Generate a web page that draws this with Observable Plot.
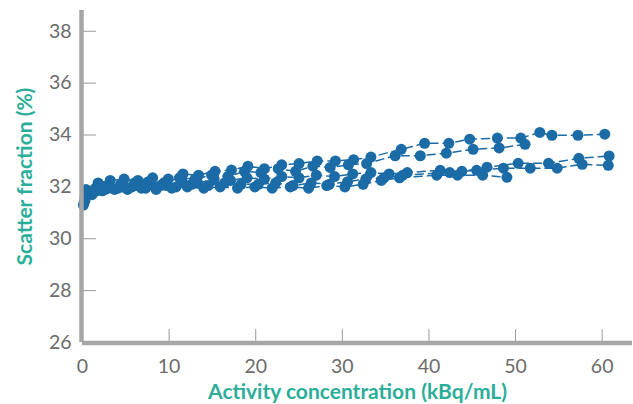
<!DOCTYPE html>
<html>
<head>
<meta charset="utf-8">
<script src="https://cdn.jsdelivr.net/npm/d3@7"></script>
<script src="https://cdn.jsdelivr.net/npm/@observablehq/plot@0.6"></script>
<style>
  html, body { margin: 0; padding: 0; background: #fff; }
  #chart { width: 633px; height: 404px; }
</style>
</head>
<body>
<div id="chart"></div>
<script>
// Activity concentration (kBq/mL) and scatter fraction (%) per acquisition series
const seriesNames = ["A", "B", "C", "D", "E"];
const xA = [0.4, 1.8, 3.2, 4.8, 6.4, 8.1, 9.9, 11.6, 13.4, 15.3, 17.2, 19.1, 21.0, 23.0, 25.0, 27.1, 29.2, 31.3, 33.3, 36.8, 39.5, 42.3, 44.7, 47.9, 50.6, 52.8, 54.2, 57.2, 60.3];
const yA = [31.9, 32.15, 32.25, 32.3, 32.25, 32.35, 32.3, 32.5, 32.45, 32.6, 32.65, 32.8, 32.7, 32.85, 32.9, 33.0, 33.0, 33.05, 33.15, 33.45, 33.68, 33.68, 33.84, 33.88, 33.88, 34.1, 33.99, 33.99, 34.03];
const xB = [0.3, 1.5, 2.9, 4.4, 6.0, 7.6, 9.4, 11.2, 13.0, 14.9, 16.8, 18.7, 20.6, 22.6, 24.6, 26.6, 28.6, 30.7, 32.8, 36.1, 39.0, 42.0, 45.1, 48.1, 51.1];
const yB = [31.6, 31.95, 32.05, 32.1, 32.15, 32.2, 32.15, 32.35, 32.3, 32.45, 32.4, 32.6, 32.55, 32.7, 32.6, 32.8, 32.75, 32.85, 32.9, 33.2, 33.2, 33.3, 33.45, 33.5, 33.64];
const xC = [0.3, 1.6, 3.0, 4.6, 6.2, 7.9, 9.7, 11.5, 13.3, 15.2, 17.1, 19.0, 21.0, 23.0, 25.0, 27.0, 29.1, 31.2, 33.3, 35.4, 37.5, 41.3, 43.8, 46.7, 50.3, 53.8, 57.3, 60.8];
const yC = [31.5, 31.85, 31.95, 32.0, 32.05, 32.1, 32.05, 32.2, 32.15, 32.3, 32.25, 32.35, 32.3, 32.4, 32.35, 32.45, 32.4, 32.5, 32.55, 32.5, 32.55, 32.64, 32.6, 32.76, 32.91, 32.91, 33.1, 33.19];
const xD = [0.2, 1.3, 2.6, 4.1, 5.7, 7.3, 9.0, 10.8, 12.6, 14.5, 16.4, 18.3, 20.3, 22.3, 24.3, 26.4, 28.5, 30.6, 32.7, 34.8, 37.0, 42.4, 45.5, 48.6, 51.7, 54.8, 57.7, 60.7];
const yD = [31.4, 31.8, 31.9, 31.95, 32.0, 31.95, 32.05, 32.0, 32.1, 32.05, 32.15, 32.1, 32.1, 32.15, 32.05, 32.15, 32.1, 32.2, 32.3, 32.35, 32.45, 32.55, 32.64, 32.72, 32.72, 32.72, 32.87, 32.83];
const xE = [0.1, 1.1, 2.3, 3.7, 5.2, 6.8, 8.5, 10.3, 12.1, 14.0, 15.9, 17.9, 19.9, 21.9, 24.0, 26.1, 28.2, 30.3, 32.4, 34.5, 36.6, 40.9, 43.3, 46.2, 49.0];
const yE = [31.3, 31.7, 31.85, 31.9, 31.9, 31.95, 31.9, 31.95, 32.0, 31.95, 32.0, 31.95, 32.0, 31.95, 32.0, 31.95, 32.05, 32.0, 32.1, 32.25, 32.35, 32.45, 32.45, 32.45, 32.37];

const xTicks = [0, 10, 20, 30, 40, 50, 60];
const yTicks = [26, 28, 30, 32, 34, 36, 38];
const xLabel = "Activity concentration (kBq/mL)";
const yLabel = "Scatter fraction (%)";

const xs = [xA, xB, xC, xD, xE];
const ys = [yA, yB, yC, yD, yE];
const data = [];
seriesNames.forEach((s, i) => xs[i].forEach((x, j) => data.push({series: s, x, y: ys[i][j]})));

const W = 633, H = 404, mL = 82, mT = 10, mB = 62, mR = 1;
const blue = "#1b6ba7", teal = "#2aae9a", gray = "#a6a6a6", textGray = "#6b6b6b";

const chart = Plot.plot({
  width: W, height: H,
  marginLeft: mL, marginTop: mT, marginBottom: mB, marginRight: mR,
  style: {fontFamily: "Lato, 'Open Sans', sans-serif", background: "#fff"},
  x: {domain: [0, 63.5]},
  y: {domain: [26, 38.8]},
  marks: [
    Plot.ruleX(xTicks.filter(d => d > 0), {stroke: "#9a9a9a", strokeWidth: 1, insetTop: H - mT - mB - 13}),
    Plot.ruleY(yTicks.filter(d => d > 26), {stroke: "#9a9a9a", strokeWidth: 1, insetRight: W - mL - mR - 14}),
    Plot.axisX(xTicks, {tickSize: 0, tickPadding: 17, fontSize: 19.5, fill: textGray, label: null}),
    Plot.axisY(yTicks, {tickSize: 0, tickPadding: 11, fontSize: 19.5, fill: textGray, label: null}),
    Plot.line(data, {x: "x", y: "y", z: "series", stroke: blue, strokeWidth: 1.5, strokeDasharray: "8,5"}),
    Plot.dot(data, {x: "x", y: "y", r: 5.5, fill: blue}),
    Plot.ruleX([0], {stroke: gray, strokeWidth: 4.5, dx: -1}),
    Plot.ruleY([26], {stroke: gray, strokeWidth: 4.5, dy: 0.5}),
    Plot.text([xLabel], {frameAnchor: "bottom", lineAnchor: "middle", dy: 50, fontSize: 21, fontWeight: "bold", fill: teal}),
    Plot.text([yLabel], {frameAnchor: "left", textAnchor: "middle", lineAnchor: "middle", dx: -57, rotate: -90, fontSize: 21, fontWeight: "bold", fill: teal})
  ]
});
document.getElementById("chart").appendChild(chart);
</script>
</body>
</html>
